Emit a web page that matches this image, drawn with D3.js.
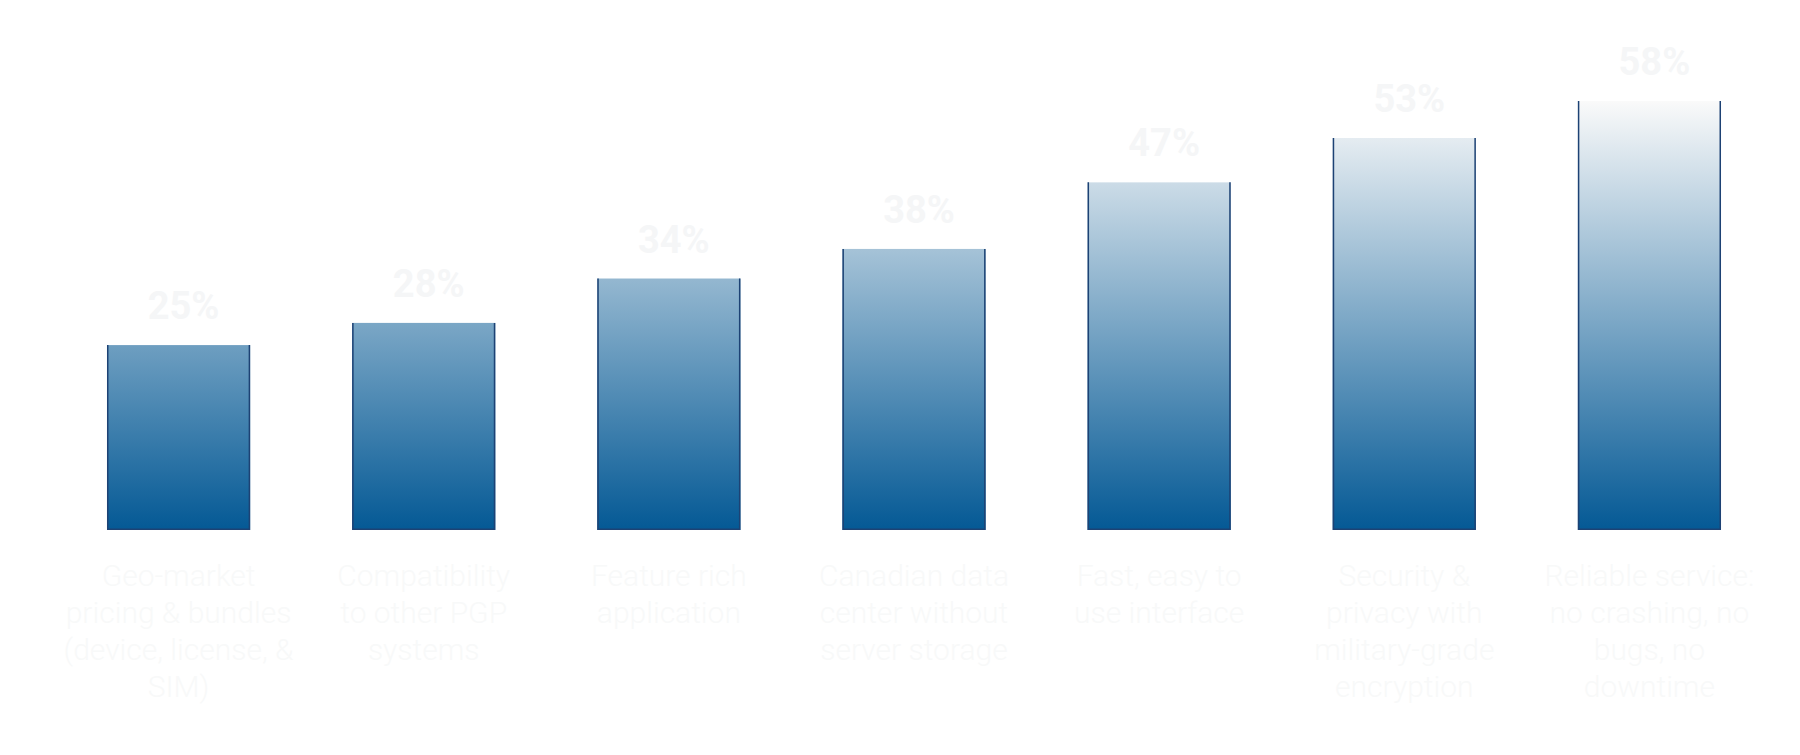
<!DOCTYPE html>
<html>
<head>
<meta charset="utf-8">
<script src="https://cdn.jsdelivr.net/npm/d3@7"></script>
<style>
  html, body { margin: 0; padding: 0; background: #ffffff; }
  svg { display: block; }
</style>
</head>
<body>
<svg id="chart" width="1800" height="755"></svg>
<script>
const categories = [
  "Geo-market\npricing & bundles\n(device, license, &\nSIM)",
  "Compatibility\nto other PGP\nsystems",
  "Feature rich\napplication",
  "Canadian data\ncenter without\nserver storage",
  "Fast, easy to\nuse interface",
  "Security &\nprivacy with\nmilitary-grade\nencryption",
  "Reliable service:\nno crashing, no\nbugs, no\ndowntime"
];
const values = [25, 28, 34, 38, 47, 53, 58];
const valueLabels = ["25%", "28%", "34%", "38%", "47%", "53%", "58%"];

const svg = d3.select("#chart");
const baseY = 530, topY = 101;

const x = d3.scaleBand()
  .domain(categories)
  .range([56, 1772])
  .paddingInner(0.416)
  .paddingOuter(0.208);

const y = d3.scaleLinear()
  .domain([0, d3.max(values)])
  .range([baseY, topY]);

const defs = svg.append("defs");
const grad = defs.append("linearGradient")
  .attr("id", "barGrad")
  .attr("gradientUnits", "userSpaceOnUse")
  .attr("x1", 0).attr("x2", 0)
  .attr("y1", y(0)).attr("y2", y(d3.max(values)));
grad.append("stop").attr("offset", "0%").attr("stop-color", "#045995");
grad.append("stop").attr("offset", "100%").attr("stop-color", "#fafafa");

const data = categories.map((c, i) => ({ c, v: values[i], label: valueLabels[i] }));

const g = svg.append("g");

g.selectAll("rect.bar")
  .data(data)
  .join("rect")
  .attr("class", "bar")
  .attr("x", d => x(d.c))
  .attr("y", d => y(d.v))
  .attr("width", x.bandwidth())
  .attr("height", d => y(0) - y(d.v))
  .attr("fill", "url(#barGrad)");

g.selectAll("path.edge")
  .data(data)
  .join("path")
  .attr("class", "edge")
  .attr("d", d => {
    const x0 = x(d.c) + 0.75, x1 = x(d.c) + x.bandwidth() - 0.75;
    const yt = y(d.v), yb = y(0) - 0.75;
    return `M${x0},${yt}L${x0},${yb}L${x1},${yb}L${x1},${yt}`;
  })
  .attr("fill", "none")
  .attr("stroke", "#1d4274")
  .attr("stroke-width", 1.5);

g.selectAll("text.val")
  .data(data)
  .join("text")
  .attr("class", "val")
  .attr("x", d => x(d.c) + x.bandwidth() / 2 + 5)
  .attr("y", d => y(d.v) - 26)
  .attr("text-anchor", "middle")
  .attr("font-family", "Roboto, 'Open Sans', sans-serif")
  .attr("font-weight", 700)
  .attr("font-size", 38)
  .attr("fill", "#f5f6f7")
  .text(d => d.label);

const cat = g.selectAll("text.cat")
  .data(data)
  .join("text")
  .attr("class", "cat")
  .attr("text-anchor", "middle")
  .attr("font-family", "Roboto, 'Open Sans', sans-serif")
  .attr("font-weight", 300)
  .attr("font-size", 30)
  .attr("fill", "#f8f9f9");

cat.each(function(d) {
  const lines = d.c.split("\n");
  const t = d3.select(this);
  lines.forEach((ln, i) => {
    t.append("tspan")
      .attr("x", x(d.c) + x.bandwidth() / 2)
      .attr("y", 586 + i * 37)
      .text(ln);
  });
});
</script>
</body>
</html>
